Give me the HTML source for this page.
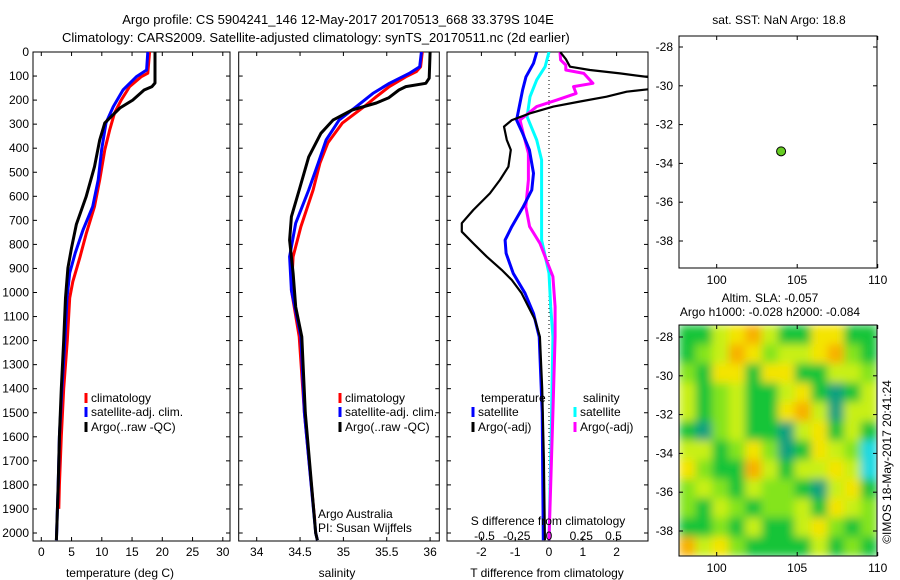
<!DOCTYPE html>
<html><head><meta charset="utf-8"><style>
body{margin:0;background:#fff;}
svg{display:block;font-family:"Liberation Sans",sans-serif;font-size:12px;}
</style></head><body>
<svg id="c" width="900" height="580" xmlns="http://www.w3.org/2000/svg">
<defs>
<filter id="bl" x="0" y="0" width="1" height="1"><feGaussianBlur stdDeviation="4.5" edgeMode="duplicate"/></filter>
<clipPath id="hc"><rect x="679" y="325" width="198" height="231"/></clipPath>
<clipPath id="p3c"><rect x="447" y="52" width="201" height="489"/></clipPath>
</defs>
<text x="338" y="24" text-anchor="middle" font-size="13">Argo profile: CS 5904241_146 12-May-2017 20170513_668 33.379S 104E</text>
<text x="62" y="42" font-size="13">Climatology: CARS2009. Satellite-adjusted climatology: synTS_20170511.nc (2d earlier)</text>
<g id="g"></g>
</svg>
<script>
// ---- data ----
const tDepth = [0,129,144,158,200,233,295,366,477,602,716,815,898,1023,1200,1400,1600,1800,2030];
const tArgo  = [18.8,18.8,18.3,17,15.1,13,10.5,9.65,8.8,7.4,5.8,5.0,4.4,4.0,3.7,3.3,3.0,2.8,2.5];
const tClimDepth = [0,88,103,144,200,254,324,407,532,643,757,857,955,1023,1200,1400,1600,1800,1900];
const tClim  = [17.9,17.6,16.5,14.6,13.2,12.1,11.3,10.5,9.65,8.8,7.4,6.35,5.2,4.7,4.3,3.7,3.3,3.0,2.9];
const tSatDepth = [0,75,103,158,227,295,407,532,643,740,836,919,1023,1200,1400,1600,1800,2030];
const tSat   = [17.6,17.4,15.7,13.5,11.9,10.7,9.97,9.4,8.5,6.9,5.6,4.7,4.25,3.9,3.4,3.0,2.8,2.5];
const sArgoDepth = [0,109,130,144,158,191,212,241,283,338,436,574,685,782,919,1060,1184,1500,2000,2030];
const sArgo  = [36.0,35.99,35.95,35.72,35.64,35.52,35.38,35.1,34.88,34.74,34.6,34.49,34.4,34.38,34.42,34.45,34.52,34.56,34.68,34.7];
const sClimDepth = [0,61,82,103,144,186,227,295,378,461,574,726,851,990,1184,1500,1950];
const sClim  = [35.91,35.89,35.84,35.72,35.53,35.38,35.24,34.99,34.82,34.73,34.65,34.51,34.42,34.4,34.49,34.55,34.67];
const sSatDepth = [0,61,89,130,172,227,283,366,461,574,712,851,990,1184,1500,2000,2030];
const sSat   = [35.9,35.88,35.76,35.53,35.34,35.15,34.95,34.8,34.71,34.6,34.45,34.38,34.4,34.51,34.55,34.68,34.7];
const dtArgoDepth = [0,30,61,75,89,109,151,165,186,206,227,255,283,310,366,407,477,532,588,657,712,747,796,851,906,948,1003,1059,1114,1184,1400,1700,2030];
const dtArgo = [0.33,0.5,0.62,1.21,2.1,3.2,3.2,2.3,1.7,0.92,0.13,-0.56,-1.1,-1.33,-1.25,-1.13,-1.2,-1.45,-1.75,-2.24,-2.58,-2.58,-2.24,-1.84,-1.4,-1.1,-0.81,-0.61,-0.41,-0.27,-0.2,-0.15,-0.12];
const dtSatDepth = [0,47,103,158,227,283,338,407,504,574,643,726,782,837,920,1003,1087,1184,1500,2030];
const dtSat  = [-0.36,-0.46,-0.68,-0.78,-0.88,-0.96,-0.78,-0.58,-0.46,-0.51,-0.76,-1.1,-1.3,-1.27,-1.06,-0.71,-0.46,-0.29,-0.2,-0.17];
const dsArgoDepth = [0,33,54,75,89,130,144,172,200,227,283,338,421,532,643,726,796,865,934,1059,1184,1500,2030];
const dsArgo = [0.085,0.09,0.13,0.13,0.27,0.34,0.19,0.21,0.06,-0.095,-0.225,-0.2,-0.16,-0.16,-0.18,-0.15,-0.07,-0.02,0.03,0.047,0.047,0.03,0.0];
const dsSatDepth = [0,61,116,186,269,366,449,574,782,920,1059,1184,1500,2030];
const dsSat  = [0,-0.03,-0.095,-0.147,-0.17,-0.095,-0.057,-0.057,-0.057,0,0.013,0.03,0.02,0.0];
const depthTicks = [0,100,200,300,400,500,600,700,800,900,1000,1100,1200,1300,1400,1500,1600,1700,1800,1900,2000];
const tTicks = [0,5,10,15,20,25,30];
const sTicks = [34,34.5,35,35.5,36];
const dtTicks = [-2,-1,0,1,2];
const dsTicks = [-0.5,-0.25,0,0.25,0.5];
const argoLon = 104, argoLat = -33.379;
const lonTicks = [100,105,110];
const latTicks = [-28,-30,-32,-34,-36,-38];
// SLA field (rows from north -26.6 to south, cols from 97.7E), levels -1..5
const slaGrid = [
[1,1,3,4,5,3,1,1,4,4,1,1],
[1,2,3,5,4,2,3,3,4,5,2,1],
[2,1,4,4,1,4,4,1,1,3,3,2],
[3,1,2,3,1,1,3,4,1,0,1,3],
[3,1,2,3,1,1,4,5,3,0,3,3],
[1,0,2,3,1,1,0,3,4,1,3,1],
[3,3,1,2,4,2,0,1,4,3,2,-1],
[4,2,1,1,5,3,1,3,3,4,3,-1],
[2,3,2,1,3,2,2,1,0,3,4,1],
[2,1,3,2,1,2,2,3,1,4,3,2],
[1,1,2,1,3,1,1,3,4,2,1,2],
[5,3,4,2,1,1,1,1,3,1,2,1]];
const slaColors = {"-1":"#18d8e0","0":"#10a080","1":"#14c438","2":"#84e41c","3":"#c8f014","4":"#f4e400","5":"#f8b000"};

// ---- scales ----
const Y0=52, YK=0.2405, BOT=541;
const yD = d => Y0 + d*YK;
const xT = t => 41.3 + t*6.05;
const xS = s => 256.7 + (s-34)*86.7;
const xDT = t => 549 + t*33.8;
const xDS = s => 549 + s*129;
const xLon = l => 716.7 + (l-100)*16.1;
const yLatTop = l => 47 + (-28-l)*19.4;
const yLatBot = l => 337 + (-28-l)*19.4;

const NS="http://www.w3.org/2000/svg";
const G=document.getElementById('g');
function mk(tag, attrs, parent){const e=document.createElementNS(NS,tag);for(const k in attrs)e.setAttribute(k,attrs[k]);(parent||G).appendChild(e);return e;}
function txt(x,y,s,anchor,parent){const e=mk('text',{x:x,y:y,'text-anchor':anchor||'start'},parent);e.textContent=s;return e;}

function panel(x0,x1,name){
  const r=mk('rect',{x:x0,y:Y0,width:x1-x0,height:BOT-Y0,fill:'none',stroke:'#000','stroke-width':1});
  
  
  depthTicks.forEach(d=>{
    const y=yD(d);
    mk('line',{x1:x0,y1:y,x2:x0+4,y2:y,stroke:'#000'});
    mk('line',{x1:x1-4,y1:y,x2:x1,y2:y,stroke:'#000'});
  });
}
function xticks(vals,fx,x0,x1,labels,name){
  vals.forEach(v=>{const x=fx(v);
    mk('line',{x1:x,y1:Y0,x2:x,y2:Y0+4,stroke:'#000'});
    mk('line',{x1:x,y1:BOT-4,x2:x,y2:BOT,stroke:'#000'});
    if(labels){const t=txt(x,556,String(v),'middle');
      
      }
  });
}
function line(xs,ds,fx,color,w,name,clip){
  const pts=xs.map((v,i)=>fx(v).toFixed(1)+','+yD(ds[i]).toFixed(1)).join(' ');
  const p=mk('polyline',{points:pts,fill:'none',stroke:color,'stroke-width':w,'stroke-linejoin':'round'});
  if(clip)p.setAttribute('clip-path','url(#p3c)');
  
  
}
function legend(x,y,color,label){
  mk('line',{x1:x,y1:y-9,x2:x,y2:y+1,stroke:color,'stroke-width':3});
  const t=txt(x+5,y,label);
  
  
}

depthTicks.forEach(d=>{const t=txt(29,yD(d)+4,String(d),'end');
  
  });

// panel 1: temperature
panel(33,230,'temperature-panel');
xticks(tTicks,xT,33,230,true,'temperature');
line(tClim,tClimDepth,xT,'#ff0000',3,'temperature-climatology-line');
line(tSat,tSatDepth,xT,'#0000ff',3,'temperature-satellite-line');
line(tArgo,tDepth,xT,'#000000',3,'temperature-argo-line');
legend(86,402,'#ff0000','climatology');
legend(86,416,'#0000ff','satellite-adj. clim.');
legend(86,431,'#000000','Argo(..raw -QC)');
let t=txt(120,577,'temperature (deg C)','middle');



// panel 2: salinity
panel(238.7,439.3,'salinity-panel');
xticks(sTicks,xS,238.7,439.3,true,'salinity');
line(sClim,sClimDepth,xS,'#ff0000',3,'salinity-climatology-line');
line(sSat,sSatDepth,xS,'#0000ff',3,'salinity-satellite-line');
line(sArgo,sArgoDepth,xS,'#000000',3,'salinity-argo-line');
legend(340,402,'#ff0000','climatology');
legend(340,416,'#0000ff','satellite-adj. clim.');
legend(340,431,'#000000','Argo(..raw -QC)');
t=txt(318,518,'Argo Australia');
t=txt(318,532,'PI: Susan Wijffels');
t=txt(337,577,'salinity','middle');



// panel 3: differences
panel(447,648,'difference-panel');
xticks(dtTicks,xDT,447,648,true,'t-difference');
mk('line',{x1:549,y1:Y0,x2:549,y2:BOT,stroke:'#000','stroke-dasharray':'1,3'});
line(dsSat,dsSatDepth,xDS,'#00ffff',3,'salinity-diff-satellite-line',true);
line(dsArgo,dsArgoDepth,xDS,'#ff00ff',3,'salinity-diff-argo-line',true);
line(dtSat,dtSatDepth,xDT,'#0000ff',3,'temperature-diff-satellite-line',true);
line(dtArgo,dtArgoDepth,xDT,'#000000',2.2,'temperature-diff-argo-line',true);
txt(481,402,'temperature');txt(583,402,'salinity');
legend(473,416,'#0000ff','satellite');legend(575,416,'#00ffff','satellite');
legend(473,431,'#000000','Argo(-adj)');legend(575,431,'#ff00ff','Argo(-adj)');
t=txt(548,525,'S difference from climatology','middle');
dsTicks.forEach(v=>{const e=txt(xDS(v),540,String(v),'middle');
  
  });
t=txt(547,577,'T difference from climatology','middle');



function mapFrame(y0,y1,fy,name){
  const r=mk('rect',{x:679,y:y0,width:198,height:y1-y0,fill:'none',stroke:'#000'});
  
  
  lonTicks.forEach(l=>{const x=xLon(l);
    mk('line',{x1:x,y1:y1-4,x2:x,y2:y1,stroke:'#000'});mk('line',{x1:x,y1:y0,x2:x,y2:y0+4,stroke:'#000'});
    const e=txt(x,y1+16,String(l),'middle');
    
    });
  latTicks.forEach(l=>{const y=fy(l);
    mk('line',{x1:679,y1:y,x2:683,y2:y,stroke:'#000'});mk('line',{x1:873,y1:y,x2:877,y2:y,stroke:'#000'});
    const e=txt(673,y+4,String(l),'end');
    
    });
}
t=txt(779,24,'sat. SST: NaN Argo: 18.8','middle');
mapFrame(36,268,yLatTop,'location-map');
const dot=mk('circle',{cx:xLon(argoLon),cy:yLatTop(argoLat),r:4.5,fill:'#66cc22',stroke:'#000'});



t=txt(770,302,'Altim. SLA: -0.057','middle');
t=txt(770,316,'Argo h1000: -0.028 h2000: -0.084','middle');
const hg=mk('g',{'clip-path':'url(#hc)'});
const hb=mk('g',{filter:'url(#bl)'},hg);
const cw=198/12, ch=231/12;
slaGrid.forEach((row,i)=>row.forEach((v,j)=>{
  const c=mk('rect',{x:679+j*cw,y:325+i*ch,width:cw+0.6,height:ch+0.6,fill:slaColors[String(v)]},hb);
  
  
}));
mapFrame(325,556,yLatBot,'sla-map');
const v=mk('text',{x:0,y:0,transform:'translate(891,462) rotate(-90)','text-anchor':'middle'});
v.textContent='\u00A9IMOS 18-May-2017 20:41:24';


</script>
</body></html>
